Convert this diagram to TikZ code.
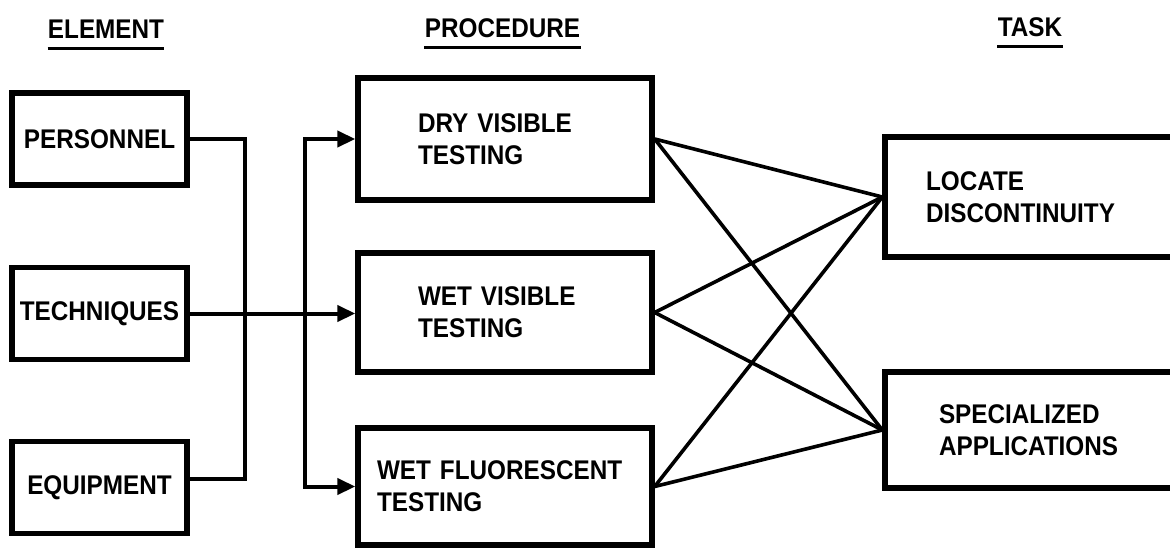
\documentclass[tikz,border=0pt]{standalone}
\usepackage{fontspec}
\newfontfamily\lbl{Liberation Sans}[FakeStretch=0.9]
\usetikzlibrary{arrows.meta}
\begin{document}
\begin{tikzpicture}[x=0.5pt,y=-0.5pt,
  every node/.style={font=\lbl\bfseries\fontsize{13.5}{16}\selectfont, inner sep=0pt},
  hdr/.style={anchor=center},
  uline/.style={line width=1.5pt},
  lbox/.style={draw, line width=2.7pt, minimum width=87.5pt, minimum height=46pt, align=center},
  mbox/.style={draw, line width=2.7pt, align=left, inner ysep=0pt},
  conn/.style={line width=2pt},
  arr/.style={line width=2pt, -{Triangle[length=9pt,width=8pt]}},
  diag/.style={line width=1.8pt}]
\useasboundingbox (0,0) rectangle (1170,547);
\clip (0,0) rectangle (1170,547);
\fill[white] (0,0) rectangle (1170,547);

\node[hdr] (hel) at (106,29) {ELEMENT};
\node[hdr] (hpr) at (502.5,28) {PROCEDURE};
\node[hdr] (hta) at (1030,27) {TASK};
\foreach \h in {hel,hpr,hta}
  \draw[uline] ([yshift=-5pt]\h.south west) -- ([yshift=-5pt]\h.south east);

\node[lbox] (pers) at (99.5,139) {PERSONNEL};
\node[lbox] (tech) at (99.5,313.5) {TECHNIQUES};
\node[lbox] (equip) at (99.5,487.5) {EQUIPMENT};

\node[mbox, minimum height=61pt, inner xsep=30pt, text width=87pt] (dry) at (505,139) {DRY VISIBLE\\TESTING};
\node[mbox, minimum height=59.5pt, inner xsep=30pt, text width=87pt] (wetv) at (505,312.5) {WET VISIBLE\\TESTING};
\node[mbox, minimum height=58.5pt, inner xsep=9.5pt, text width=128pt] (wetf) at (505,486.5) {WET FLUORESCENT\\TESTING};
\node[mbox, minimum height=60pt, inner xsep=20.5pt, text width=111.5pt] (loc) at (1037.5,197) {LOCATE\\DISCONTINUITY};
\node[mbox, minimum height=58pt, inner xsep=27pt, text width=98.5pt] (spec) at (1037.5,430) {SPECIALIZED\\APPLICATIONS};

\coordinate (v1t) at (245,139);
\coordinate (v1b) at (245,478.5);
\coordinate (v2t) at (305,139);
\coordinate (v2b) at (305,486.5);
\draw[conn] (pers.east) -- (v1t) -- (v1b) -- ([yshift=4.5pt]equip.east);
\draw[arr] (v2b) -- (v2t) -- (dry.west);
\draw[arr] (v2t) -- (v2b) -- (wetf.west);
\draw[arr] (tech.east) -- (tech.east -| wetv.west);

\foreach \s in {dry,wetv,wetf}
  \foreach \t in {loc,spec}
    \draw[diag] (\s.east) -- (\t.west);
\end{tikzpicture}
\end{document}
